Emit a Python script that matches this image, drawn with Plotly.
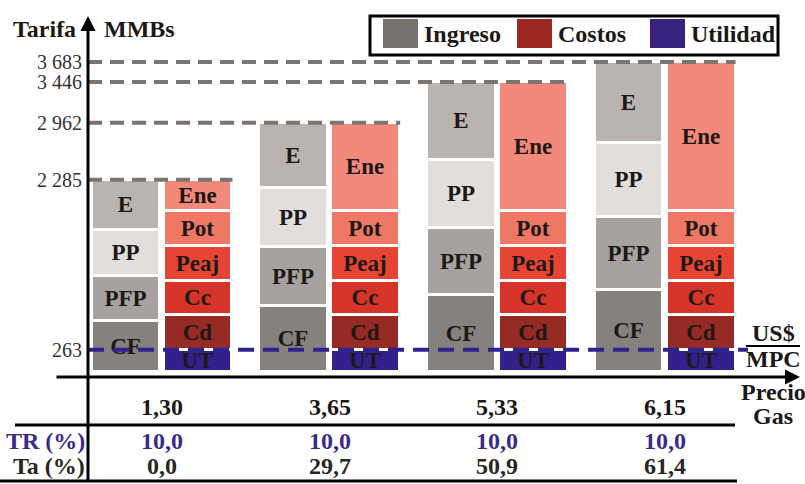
import plotly.graph_objects as go

# ---------------- data ----------------
gas_price = [1.30, 3.65, 5.33, 6.15]          # US$/MPC
tarifa_total = [2285, 2962, 3446, 3683]       # MMBs
utilidad = 263                                 # MMBs
tr_pct = [10.0, 10.0, 10.0, 10.0]
ta_pct = [0.0, 29.7, 50.9, 61.4]

# Ingreso components (MMBs), bottom to top
ing_cf = [606, 786, 912, 976]
ing_pfp = [540, 700, 800, 869]
ing_pp = [541, 702, 810, 880]
ing_e = [598, 774, 924, 958]

# Costos components (MMBs), bottom to top
cos_ut = [263, 263, 263, 263]
cos_cd = [412, 412, 412, 412]
cos_cc = [412, 412, 412, 412]
cos_peaj = [412, 412, 412, 412]
cos_pot = [412, 412, 412, 412]
cos_ene = [374, 1051, 1535, 1772]

# ---------------- geometry ----------------
W, H = 805, 484
X_RANGE = [-0.966, 3.834]
Y_RANGE = [-1331, 4420]
OFF = 0.215
BW = 0.41
AXIS_X = -0.441           # position of the vertical axis in x units

SERIF = "'Liberation Serif', 'Times New Roman', 'DejaVu Serif', serif"
INK = "#1c1816"


def py(p):
    return 1 - p / H


def pxx(p):
    return p / W


groups = list(range(len(gas_price)))
x_ing = [g - OFF for g in groups]
x_cos = [g + OFF for g in groups]

fig = go.Figure()


def add_stack(xs, vals, label, color):
    fig.add_trace(go.Bar(
        x=xs, y=vals, width=BW,
        marker=dict(color=color, line=dict(color="white", width=3)),
        text=[label] * len(vals), textposition="inside",
        insidetextanchor="middle", textangle=0, constraintext="none",
        textfont=dict(family=SERIF, size=23, color=INK, weight="bold"),
        hoverinfo="skip", showlegend=False,
    ))


for vals, lab, col in [
    (ing_cf, "CF", "#85817f"),
    (ing_pfp, "PFP", "#a7a29f"),
    (ing_pp, "PP", "#e2dedc"),
    (ing_e, "E", "#b9b4b0"),
]:
    add_stack(x_ing, vals, lab, col)

for vals, lab, col in [
    (cos_ut, "UT", "#34208c"),
    (cos_cd, "Cd", "#962a24"),
    (cos_cc, "Cc", "#d63428"),
    (cos_peaj, "Peaj", "#e64434"),
    (cos_pot, "Pot", "#ef7864"),
    (cos_ene, "Ene", "#f3897a"),
]:
    add_stack(x_cos, vals, lab, col)

shapes = []
# grey dashed guides at each tariff level
for g, tot in zip(groups, tarifa_total):
    shapes.append(dict(type="line", xref="x", yref="y", layer="above",
                       x0=AXIS_X, x1=g + OFF + BW / 2, y0=tot, y1=tot,
                       line=dict(color="#7a7573", width=4, dash="14px,8px")))
# utility level
shapes.append(dict(type="line", xref="x", yref="y", layer="above",
                   x0=AXIS_X, x1=3.494, y0=utilidad, y1=utilidad,
                   line=dict(color="#2e238c", width=4, dash="16px,9px")))

# table rules
for (x0, x1, yy) in [(15, 735, 425), (0, 737, 481)]:
    shapes.append(dict(type="line", xref="paper", yref="paper",
                       x0=pxx(x0), x1=pxx(x1), y0=py(yy), y1=py(yy),
                       line=dict(color="black", width=3)))
# unit fraction bar
shapes.append(dict(type="line", xref="paper", yref="paper",
                   x0=pxx(746), x1=pxx(800), y0=py(346), y1=py(346),
                   line=dict(color="black", width=2)))

# legend box
shapes.append(dict(type="rect", xref="paper", yref="paper",
                   x0=pxx(370), x1=pxx(778), y0=py(55), y1=py(16),
                   line=dict(color="black", width=3), fillcolor="white"))
legend_items = [("Ingreso", "#78736f", 383), ("Costos", "#9b2823", 517),
                ("Utilidad", "#37237d", 650)]
for name, col, x0 in legend_items:
    shapes.append(dict(type="rect", xref="paper", yref="paper",
                       x0=pxx(x0), x1=pxx(x0 + 35), y0=py(48), y1=py(19),
                       line=dict(width=0), fillcolor=col))

bold = dict(family=SERIF, size=24, color=INK, weight="bold")


def label(xp, yp, text, font=bold, xanchor="center", xref="paper"):
    return dict(x=xp, y=py(yp), xref=xref, yref="paper", text=text,
                showarrow=False, xanchor=xanchor, yanchor="middle", font=font)


ann = []
for name, col, x0 in legend_items:
    ann.append(label(pxx(x0 + 39), 34, name, xanchor="left"))

# axes drawn as arrows
ann.append(dict(x=pxx(88), y=py(16), xref="paper", yref="paper", text="",
                showarrow=True, ax=0, ay=467, arrowhead=2, arrowsize=1,
                arrowwidth=3, arrowcolor="black", standoff=0))
ann.append(dict(x=pxx(800), y=py(377), xref="paper", yref="paper", text="",
                showarrow=True, ax=-745, ay=0, arrowhead=2, arrowsize=1,
                arrowwidth=3, arrowcolor="black", standoff=0))

ann.append(label(pxx(44), 29, "Tarifa"))
ann.append(label(pxx(139), 29, "MMBs"))
ann.append(label(pxx(773), 333, "US$"))
ann.append(label(pxx(773), 359, "MPC"))
ann.append(label(pxx(773), 392, "Precio"))
ann.append(label(pxx(773), 416, "Gas"))

blue = "#3a2b8a"
blue_font = dict(family=SERIF, size=24, color=blue, weight="bold")
dark_font = dict(family=SERIF, size=24, color="#2a2624", weight="bold")
ann.append(label(pxx(87), 441, "TR (%)", font=blue_font, xanchor="right"))
ann.append(label(pxx(87), 466, "Ta (%)", font=dark_font, xanchor="right"))


def fmt(v, nd):
    return f"{v:.{nd}f}".replace(".", ",")


for g, p, tr, ta in zip(groups, gas_price, tr_pct, ta_pct):
    ann.append(label(g, 407, fmt(p, 2), xref="x"))
    ann.append(label(g, 441, fmt(tr, 1), font=blue_font, xref="x"))
    ann.append(label(g, 466, fmt(ta, 1), font=dark_font, xref="x"))

tick_vals = [utilidad] + tarifa_total
tick_text = [f"{v:,}".replace(",", " ") for v in tick_vals]

axis_pos = (AXIS_X - X_RANGE[0]) / (X_RANGE[1] - X_RANGE[0])

fig.update_layout(
    width=W, height=H,
    margin=dict(l=0, r=0, t=0, b=0),
    paper_bgcolor="white", plot_bgcolor="white",
    barmode="stack", bargap=0,
    showlegend=False,
    xaxis=dict(range=X_RANGE, visible=False, fixedrange=True),
    yaxis=dict(range=Y_RANGE, tickvals=tick_vals, ticktext=tick_text,
               showgrid=False, zeroline=False, showline=False, ticks="",
               anchor="free", position=axis_pos, ticklabelstandoff=6,
               tickfont=dict(family=SERIF, size=20, color="#333333"),
               fixedrange=True),
    shapes=shapes,
    annotations=ann,
)

fig.write_html("out.html")
